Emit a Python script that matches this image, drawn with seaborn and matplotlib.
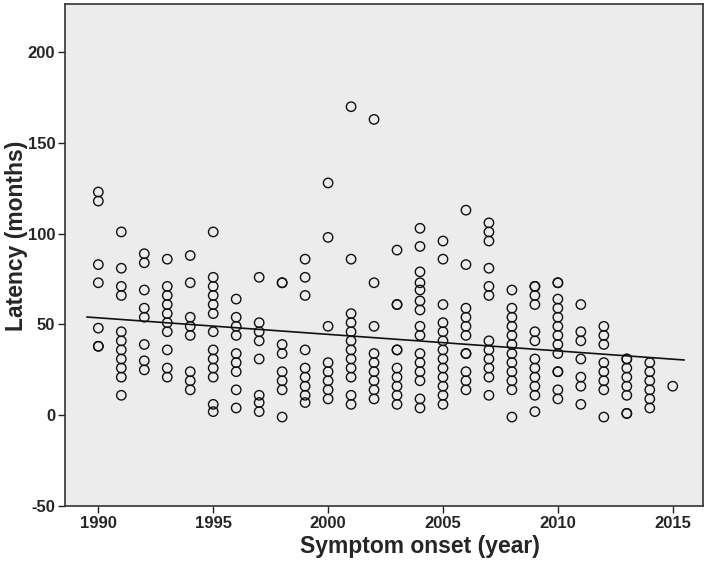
import numpy as np
import pandas as pd
import matplotlib
matplotlib.use("Agg")
import matplotlib.pyplot as plt
import seaborn as sns

# Latency (months) by year of symptom onset
y1990 = [123, 118, 83, 73, 48, 38, 38]
y1991 = [101, 81, 71, 66, 46, 41, 36, 31, 26, 21, 11]
y1992 = [89, 84, 69, 59, 54, 39, 30, 25]
y1993 = [86, 71, 66, 61, 56, 51, 46, 36, 26, 21]
y1994 = [88, 73, 54, 49, 44, 24, 19, 14]
y1995 = [101, 76, 71, 66, 61, 56, 46, 36, 31, 26, 21, 6, 2]
y1996 = [64, 54, 49, 44, 34, 29, 24, 14, 4]
y1997 = [76, 51, 46, 41, 31, 11, 7, 2]
y1998 = [73, 73, 39, 34, 24, 19, 14, -1]
y1999 = [86, 76, 66, 36, 26, 21, 16, 11, 7]
y2000 = [128, 98, 49, 29, 24, 19, 14, 9]
y2001 = [170, 86, 56, 51, 46, 41, 36, 31, 26, 21, 11, 6]
y2002 = [163, 73, 49, 34, 29, 24, 19, 14, 9]
y2003 = [91, 61, 61, 36, 36, 26, 21, 16, 11, 6]
y2004 = [103, 93, 79, 73, 69, 63, 58, 49, 44, 34, 29, 24, 19, 9, 4]
y2005 = [96, 86, 61, 51, 46, 41, 36, 31, 26, 21, 16, 11, 6]
y2006 = [113, 83, 59, 54, 49, 44, 34, 34, 24, 19, 14]
y2007 = [106, 101, 96, 81, 71, 66, 41, 36, 31, 26, 21, 11]
y2008 = [69, 59, 54, 49, 44, 39, 34, 29, 24, 19, 14, -1]
y2009 = [71, 71, 66, 61, 46, 41, 31, 26, 21, 16, 11, 2]
y2010 = [73, 73, 64, 59, 54, 49, 44, 39, 34, 24, 24, 14, 9]
y2011 = [61, 46, 41, 31, 21, 16, 6]
y2012 = [49, 44, 39, 29, 24, 19, 14, -1]
y2013 = [31, 31, 26, 21, 16, 11, 1, 1]
y2014 = [29, 24, 19, 14, 9, 4]
y2015 = [16]

years = list(range(1990, 2016))
groups = [y1990, y1991, y1992, y1993, y1994, y1995, y1996, y1997, y1998,
          y1999, y2000, y2001, y2002, y2003, y2004, y2005, y2006, y2007,
          y2008, y2009, y2010, y2011, y2012, y2013, y2014, y2015]

xs, ys = [], []
for yr, vals in zip(years, groups):
    xs += [yr] * len(vals)
    ys += vals
df = pd.DataFrame({"onset": xs, "latency": ys})

x_ticks = [1990, 1995, 2000, 2005, 2010, 2015]
y_ticks = [-50, 0, 50, 100, 150, 200]

sns.set_style("white")
plt.rcParams["font.family"] = ["Liberation Sans", "DejaVu Sans"]

fig = plt.figure(figsize=(7.09, 5.66), dpi=100)
ax = fig.add_axes([0.0917, 0.106, 0.8993, 0.887])
ax.set_facecolor("#ececec")

sns.scatterplot(data=df, x="onset", y="latency", ax=ax, s=46,
                facecolor="none", edgecolor="#111111", linewidth=1.0,
                marker="o", legend=False)

# linear fit line
slope, intercept = np.polyfit(df["onset"], df["latency"], 1)
fx = np.array([min(years) - 0.5, max(years) + 0.5])
fit = pd.DataFrame({"x": fx, "y": slope * fx + intercept})
sns.lineplot(data=fit, x="x", y="y", ax=ax, color="#111111", linewidth=1.2)

ax.set_xlim(1988.55, 2016.3)
ax.set_ylim(-50, 226.6)
ax.set_xticks(x_ticks)
ax.set_yticks(y_ticks)
ax.set_xticklabels([str(t) for t in x_ticks], fontsize=12, fontweight="bold")
ax.set_yticklabels([str(t) for t in y_ticks], fontsize=12, fontweight="bold")
ax.tick_params(axis="both", direction="out", length=5, width=1,
               color="#222222", bottom=True, left=True, top=False, right=False,
               pad=2)

for sp in ax.spines.values():
    sp.set_color("#333333")
    sp.set_linewidth(1.2)

ax.set_xlabel("Symptom onset (year)", fontsize=16.5, fontweight="bold")
ax.set_ylabel("Latency (months)", fontsize=16.5, fontweight="bold")
ax.xaxis.set_label_coords(0.557, -0.058)
ax.yaxis.set_label_coords(-0.058, 0.538)

fig.savefig("out.png", dpi=100, facecolor="white")
